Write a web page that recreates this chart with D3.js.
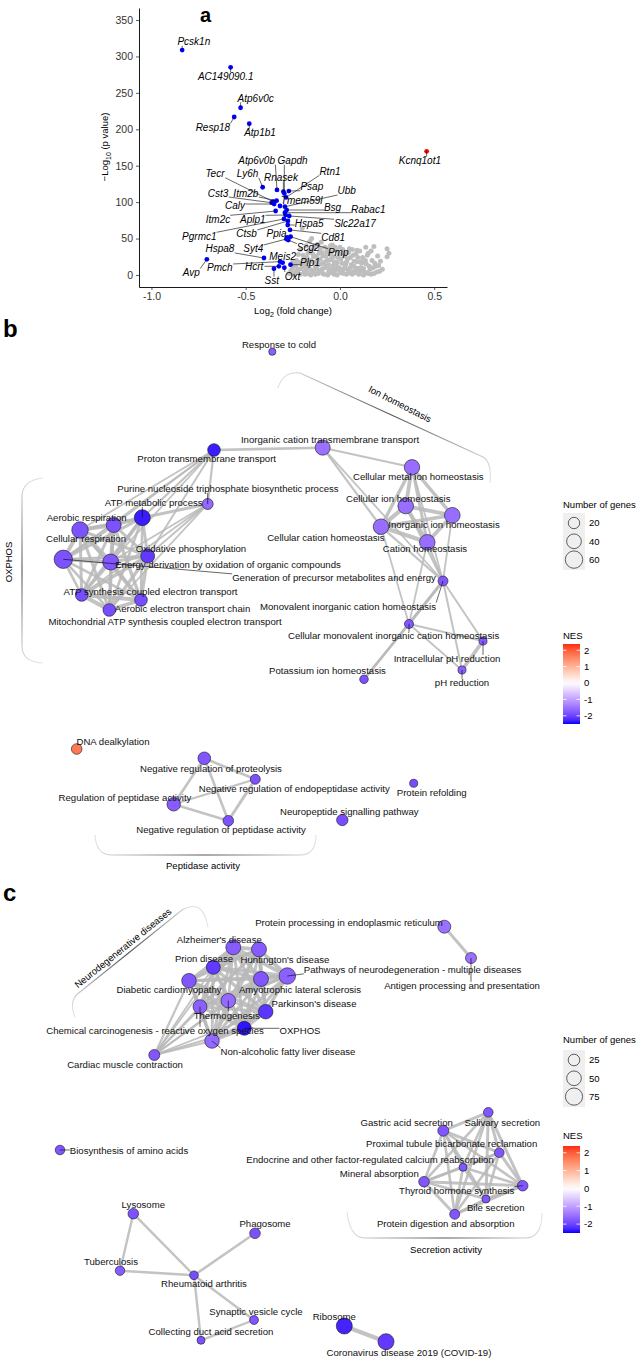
<!DOCTYPE html>
<html><head><meta charset="utf-8">
<script src="https://cdn.jsdelivr.net/npm/d3@7/dist/d3.min.js"></script>
<style>body{margin:0;background:#fff} text{font-family:"Liberation Sans",Arial,Helvetica,sans-serif}</style>
</head><body><svg id="fig" width="640" height="1359"></svg>
<script>
// ---------------- Panel a : volcano data ----------------
const sigGenes = ["Pcsk1n","AC149090.1","Atp6v0c","Resp18","Atp1b1","Kcnq1ot1","Ly6h","Tecr","Atp6v0b","Gapdh","Rnasek","Rtn1","Psap","Ubb","Tmem59l","Cst3","Itm2b","Caly","Bsg","Rabac1","Itm2c","Aplp1","Slc22a17","Hspa5","Pgrmc1","Ctsb","Ppia","Cd81","Scg2","Pmp","Syt4","Hspa8","Avp","Pmch","Hcrt","Sst","Oxt","Meis2","Plp1"];
const sigLog2FC = [-0.837,-0.580,-0.527,-0.561,-0.481,0.460,-0.410,-0.354,-0.334,-0.295,-0.300,-0.286,-0.271,-0.292,-0.318,-0.362,-0.336,-0.349,-0.283,-0.292,-0.341,-0.288,-0.269,-0.277,-0.297,-0.276,-0.280,-0.265,-0.274,-0.262,-0.284,-0.403,-0.706,-0.318,-0.324,-0.350,-0.295,-0.304,-0.262];
const sigLogP = [308.8,285.1,229.6,216.9,207.7,169.8,120.4,100.6,116.7,111.7,114.3,106.4,115.2,93.7,94.7,99.2,102.0,97.4,89.2,85.5,87.8,82.3,81.0,68.6,76.9,74.1,51.7,61.8,48.0,52.6,49.4,23.3,21.5,18.3,11.9,8.6,10.0,16.9,14.1];
// repelled label positions (data units)
const labelLog2FC = [-0.775,-0.606,-0.447,-0.674,-0.424,0.424,-0.490,-0.663,-0.442,-0.251,-0.313,-0.053,-0.149,0.036,-0.203,-0.647,-0.499,-0.557,-0.039,0.150,-0.647,-0.462,0.080,-0.163,-0.746,-0.495,-0.336,-0.036,-0.168,-0.009,-0.460,-0.637,-0.789,-0.637,-0.455,-0.362,-0.251,-0.304,-0.159];
const labelLogP = [320.2,273.1,242.5,202.7,195.3,156.9,139.0,139.0,156.9,156.9,134.1,142.3,121.2,115.3,102.9,112.5,112.5,94.7,92.9,89.6,76.4,76.4,71.0,70.4,53.1,56.3,56.3,51.7,37.5,30.6,35.7,35.7,3.2,9.6,11.0,-7.8,-1.4,25.1,17.4];
// non-significant genes [log2FC, -log10 p]
const bgGenes = [[-0.27,2],[-0.26,6],[-0.25,10],[-0.24,3],[-0.24,15],[-0.23,20],[-0.22,8],[-0.22,28],[-0.21,1],[-0.21,35],[-0.20,64],[-0.20,14],[-0.19,22],[-0.19,4],[-0.18,40],[-0.18,10],[-0.17,30],[-0.17,2],[-0.16,18],[-0.16,46],[-0.15,50],[-0.15,7],[-0.14,25],[-0.14,36],[-0.13,12],[-0.13,1],[-0.12,42],[-0.12,20],[-0.11,30],[-0.11,5],[-0.10,45],[-0.10,15],[-0.09,26],[-0.09,2],[-0.08,38],[-0.08,10],[-0.07,20],[-0.07,32],[-0.06,4],[-0.06,14],[-0.05,28],[-0.05,40],[-0.04,41],[-0.04,8],[-0.03,18],[-0.03,1],[-0.02,34],[-0.02,12],[-0.01,24],[0.00,5],[0.00,38],[0.01,16],[0.02,30],[0.02,2],[0.03,9],[0.04,22],[0.05,36],[0.05,3],[0.06,14],[0.07,27],[0.08,6],[0.09,34],[0.09,18],[0.10,1],[0.11,10],[0.12,24],[0.13,4],[0.137,38],[0.14,15],[0.15,30],[0.16,8],[0.17,20],[0.18,39],[0.18,2],[0.19,12],[0.20,26],[0.21,5],[0.25,36],[0.25,25],[-0.23,5],[-0.19,12],[-0.12,8],[-0.05,21],[0.03,14],[0.11,18],[0.15,2],[-0.26,14],[-0.01,9],[0.07,4],
 [-0.25,18],[-0.245,0],[-0.235,12],[-0.225,4],[-0.215,17],[-0.205,9],[-0.195,27],[-0.185,1],[-0.185,16],[-0.175,6],[-0.175,24],[-0.165,11],[-0.165,34],[-0.155,0],[-0.155,20],[-0.145,5],[-0.145,29],[-0.135,17],[-0.135,40],[-0.125,8],[-0.125,26],[-0.115,2],[-0.115,14],[-0.105,22],[-0.105,36],[-0.095,8],[-0.095,31],[-0.085,1],[-0.085,17],[-0.075,12],[-0.075,26],[-0.065,0],[-0.065,36],[-0.055,8],[-0.055,21],[-0.045,3],[-0.045,32],[-0.035,13],[-0.035,25],[-0.025,6],[-0.025,38],[-0.015,0],[-0.015,17],[-0.005,10],[-0.005,29],[0.005,3],[0.005,22],[0.015,8],[0.015,35],[0.025,14],[0.025,26],[0.035,1],[0.035,18],[0.045,6],[0.045,31],[0.055,10],[0.055,24],[0.065,1],[0.065,35],[0.075,12],[0.075,19],[0.085,3],[0.085,29],[0.095,9],[0.095,24],[0.105,5],[0.105,33],[0.115,16],[0.125,0],[0.125,9],[0.135,20],[0.145,3],[0.145,27],[0.155,12],[0.165,1],[0.165,33],[0.175,10],[0.185,16],[0.195,4],[0.205,13],[0.215,19],[0.225,8],[0.26,30]];
const sigDirection = sigLog2FC.map(v => v > 0 ? "up" : "down");
const volcanoXTicks = [-1.0,-0.5,0.0,0.5];
const volcanoYTicks = [0,50,100,150,200,250,300,350];

// ---------------- Panel b : GO network ----------------
const bNames = ["Response to cold","Proton transmembrane transport","Inorganic cation transmembrane transport","Purine nucleoside triphosphate biosynthetic process","ATP metabolic process","Aerobic respiration","Cellular respiration","Generation of precursor metabolites and energy","Energy derivation by oxidation of organic compounds","Oxidative phosphorylation","ATP synthesis coupled electron transport","Aerobic electron transport chain","Mitochondrial ATP synthesis coupled electron transport","Cellular metal ion homeostasis","Cellular ion homeostasis","Inorganic ion homeostasis","Cellular cation homeostasis","Cation homeostasis","Monovalent inorganic cation homeostasis","Cellular monovalent inorganic cation homeostasis","Intracellular pH reduction","Potassium ion homeostasis","pH reduction","DNA dealkylation","Negative regulation of proteolysis","Negative regulation of endopeptidase activity","Regulation of peptidase activity","Negative regulation of peptidase activity","Neuropeptide signalling pathway","Protein refolding"];
const bLayoutX = [272.3,214,322.7,207.7,142.3,113.7,80,63.3,110.7,147.7,81.7,141,109.3,412,405.7,452.3,381,427.3,443,409,483,364,462,76.7,204.3,255.3,173.7,228.3,342.3,413.7];
const bLayoutY = [21.7,120,117.7,174,187.7,195,200,229.3,232,226,265,270,280,137.3,176,185.3,196.7,212.3,251,294,311,349.3,340,419,428.3,449.3,474.3,490.7,490,453.3];
const bGenes = [2,27,42,18,49,42,53,68,49,35,27,27,27,45,47,47,46,46,13,9,5,7,5,16,27,13,32,16,20,5];
const bNES = [-1.7,-2.35,-1.5,-1.6,-2.35,-1.85,-1.85,-1.85,-1.8,-2.1,-1.9,-1.9,-1.9,-1.55,-1.55,-1.55,-1.55,-1.55,-1.8,-1.8,-1.75,-1.85,-1.7,1.7,-1.8,-1.85,-1.75,-1.85,-1.9,-1.9];
const bLabelX = [279,206.7,330,228,153.7,86.7,86,334,228,191,150.5,182.5,165,418.3,398.3,444,325.8,425,348,393.6,447,327.5,462,113,211,294.3,125,221,349.3,431.7];
const bLabelY = [14.3,129,109.3,159,173,187.3,209,248,234.3,218.3,261.7,279,291.7,146.7,168.3,195,207.7,219,276.7,306,329,341,353,411.3,438.3,458.3,467.3,499.3,481.7,462.7];
const bEdges = [[1,2,.5],[1,3,.4],[1,4,.4],[1,5,.3],[1,6,.3],[1,8,.3],[1,9,.35],[1,7,.25],
 [3,4,.6],[3,9,.35],[3,10,.3],[3,12,.3],[3,8,.3],
 [4,5,.7],[4,6,.6],[4,7,.6],[4,8,.7],[4,9,.6],[4,10,.5],[4,11,.5],[4,12,.5],
 [5,6,.9],[5,7,.7],[5,8,.8],[5,9,.6],[5,10,.6],[5,11,.7],[5,12,.6],
 [6,7,.8],[6,8,.9],[6,9,.6],[6,10,.6],[6,11,.6],[6,12,.6],
 [7,8,.8],[7,9,.5],[7,10,.5],[7,11,.5],[7,12,.5],
 [8,9,.6],[8,10,.6],[8,11,.6],[8,12,.6],[9,10,.7],[9,11,.7],[9,12,.7],[10,11,.8],[10,12,.9],[11,12,.8],
 [2,13,.4],[2,16,.4],[2,18,.3],
 [13,14,.8],[13,15,.7],[13,16,.7],[13,17,.6],[14,15,.8],[14,16,.9],[14,17,.8],[15,16,.7],[15,17,.8],[16,17,.9],
 [18,13,.3],[18,14,.35],[18,15,.3],[18,16,.4],[18,17,.4],[19,18,.6],[19,16,.3],[19,17,.3],
 [21,18,.4],[21,19,.5],[20,18,.35],[20,22,.8],[22,18,.35],[22,19,.3],[20,19,.3],
 [24,25,.5],[24,26,.5],[24,27,.5],[26,27,.5],[26,25,.4],[25,27,.6]];

// ---------------- Panel c : KEGG network ----------------
const cNames = ["Alzheimer's disease","Huntington's disease","Prion disease","Diabetic cardiomyopathy","Amyotrophic lateral sclerosis","Pathways of neurodegeneration - multiple diseases","Parkinson's disease","Thermogenesis","Chemical carcinogenesis - reactive oxygen species","OXPHOS","Non-alcoholic fatty liver disease","Cardiac muscle contraction","Protein processing in endoplasmic reticulum","Antigen processing and presentation","Biosynthesis of amino acids","Gastric acid secretion","Salivary secretion","Proximal tubule bicarbonate reclamation","Endocrine and other factor-regulated calcium reabsorption","Mineral absorption","Thyroid hormone synthesis","Bile secretion","Protein digestion and absorption","Lysosome","Phagosome","Tuberculosis","Rheumatoid arthritis","Synaptic vesicle cycle","Collecting duct acid secretion","Ribosome","Coronavirus disease 2019 (COVID-19)"];
const cLayoutX = [233.3,259,213.3,189,261,287.3,265.7,228.3,200,244.3,212,154.3,444.3,471,60,443.3,488.3,499.3,463,424,522.7,486,454.7,133.3,255,120,194,254,201,344.3,386];
const cLayoutY = [77.3,79.3,97.3,110.7,109,106,141.7,130.7,136.7,158.3,171,185,56.7,88,280,260.7,242.3,282.7,297.3,311.7,315.7,329,344.3,343.7,363.3,400.7,405.3,450,470.3,456,471.7];
const cGenes = [53,53,44,49,53,68,49,49,44,44,49,21,36,21,12,21,12,12,3,18,18,3,14,18,18,11,7,8,3,63,63];
const cNES = [-1.75,-1.75,-2.1,-1.8,-1.8,-1.7,-2.15,-1.6,-1.7,-2.4,-1.6,-1.8,-1.5,-1.5,-1.8,-1.8,-1.8,-1.8,-1.8,-1.8,-1.8,-1.8,-1.8,-1.85,-1.85,-1.75,-1.9,-1.8,-1.85,-2.3,-2.1];
const cLabelX = [219.3,285,204,169,300,412.6,314,226.7,155,300,288,125,349,462,129,406.7,502.3,451.7,370,379.3,456.7,495.7,445.7,143.3,265,111,204,256,211,334.3,409];
const cLabelY = [69.3,89.3,89,120,120,100,134,145.7,161,161,182,195,52.7,116,281,252.3,252.3,274,289.3,304,320.7,337.7,353.3,335,354,392,413.7,441.7,462,446.7,482.7];
const cEdges = [[0,1,.8],[0,2,.7],[0,3,.6],[0,4,.7],[0,5,.8],[0,6,.7],[0,7,.5],[0,8,.6],[0,9,.6],[0,10,.6],
 [1,2,.7],[1,3,.6],[1,4,.7],[1,5,.8],[1,6,.7],[1,7,.5],[1,8,.6],[1,9,.6],[1,10,.6],
 [2,3,.6],[2,4,.7],[2,5,.7],[2,6,.7],[2,7,.5],[2,8,.6],[2,9,.6],[2,10,.6],
 [3,4,.6],[3,5,.6],[3,6,.6],[3,7,.6],[3,8,.6],[3,9,.6],[3,10,.6],
 [4,5,.8],[4,6,.7],[4,7,.5],[4,8,.6],[4,9,.6],[4,10,.6],
 [5,6,.7],[5,7,.5],[5,8,.6],[5,9,.6],[5,10,.6],[6,7,.5],[6,8,.6],[6,9,.7],[6,10,.6],
 [7,8,.6],[7,9,.6],[7,10,.6],[8,9,.6],[8,10,.7],[9,10,.7],
 [11,3,.4],[11,7,.35],[11,8,.35],[11,9,.4],[11,10,.4],[11,0,.3],[11,2,.3],[11,6,.3],[11,1,.25],[11,4,.25],
 [12,13,.6],
 [15,16,.6],[15,17,.6],[15,18,.5],[15,19,.5],[15,20,.5],[15,21,.5],[15,22,.5],
 [16,17,.6],[16,18,.5],[16,19,.5],[16,20,.6],[16,21,.6],[16,22,.5],
 [17,18,.5],[17,19,.5],[17,20,.6],[17,21,.5],[17,22,.5],
 [18,19,.5],[18,20,.5],[18,21,.5],[18,22,.5],[19,20,.6],[19,21,.5],[19,22,.6],[20,21,.6],[20,22,.6],[21,22,.5],
 [23,25,.45],[23,26,.45],[25,26,.5],[24,26,.5],[26,27,.45],[26,28,.45],[27,28,.45],[29,30,.9]];

// legends
const bSizeBreaks = [20,40,60];
const cSizeBreaks = [25,50,75];
const nesBreaks = [2,1,0,-1,-2];
const nesLimits = [-2.5,2.38];

// ---------------- drawing ----------------
const svg = d3.select("#fig");
const defs = svg.append("defs");
const colorNES = d3.scaleLinear().domain([-2.5,0,2.5]).range(["#0000ff","#ffffff","#ff0000"]).interpolate(d3.interpolateLab).clamp(true);
const edgeWidth = d3.scaleLinear().domain([0,1]).range([0.6,4.6]);
const LABEL_FS = 9.6;

function boxDist(b, px, py){
  const nx = Math.max(b.x, Math.min(px, b.x+b.width));
  const ny = Math.max(b.y, Math.min(py, b.y+b.height));
  return {nx, ny, d: Math.hypot(px-nx, py-ny)};
}

// ---- Panel a
(function(){
  const x = d3.scaleLinear().domain([-1.066,0.568]).range([139,447]);
  const y = d3.scaleLinear().domain([-16.5,366.5]).range([287,8]);
  const g = svg.append("g");
  const xa = g.append("g").attr("transform","translate(0,287)")
    .call(d3.axisBottom(x).tickValues(volcanoXTicks).tickSize(3).tickSizeOuter(0).tickFormat(d=>d.toFixed(1)));
  const ya = g.append("g").attr("transform","translate(139,0)")
    .call(d3.axisLeft(y).tickValues(volcanoYTicks).tickSize(3).tickSizeOuter(0).tickFormat(d=>d));
  [xa,ya].forEach(a=>{
    a.select(".domain").attr("stroke","#000").attr("stroke-width",0.9);
    a.selectAll(".tick line").attr("stroke","#333").attr("stroke-width",0.8);
    a.selectAll(".tick text").attr("font-size",10.5).attr("fill","#333").attr("font-family",'"Liberation Sans",Arial,sans-serif');
  });
  g.append("g").selectAll("circle").data(bgGenes).join("circle")
    .attr("cx",d=>x(d[0])).attr("cy",d=>y(d[1])).attr("r",2.5).attr("fill","#bebebe");
  g.append("g").selectAll("circle").data(sigGenes.map((n,i)=>i)).join("circle")
    .attr("cx",i=>x(sigLog2FC[i])).attr("cy",i=>y(sigLogP[i])).attr("r",2.4)
    .attr("fill",i=>sigDirection[i]==="up"?"#ff0000":"#0000ff");
  const segG = g.append("g"), txtG = g.append("g");
  sigGenes.forEach((n,i)=>{
    const t = txtG.append("text").attr("x",x(labelLog2FC[i])).attr("y",y(labelLogP[i])).attr("dy","0.35em")
      .attr("text-anchor","middle").attr("font-size",10).attr("font-style","italic").text(n);
    const b = t.node().getBBox();
    const px = x(sigLog2FC[i]), py = y(sigLogP[i]);
    const r = boxDist({x:b.x,y:b.y+1.5,width:b.width,height:b.height-3}, px, py);
    if (r.d > 3) segG.append("line").attr("x1",r.nx).attr("y1",r.ny).attr("x2",px).attr("y2",py)
      .attr("stroke","#000").attr("stroke-width",0.6);
  });
  const xt = g.append("text").attr("x",293).attr("y",314).attr("text-anchor","middle").attr("font-size",9.5);
  xt.append("tspan").text("Log");
  xt.append("tspan").attr("font-size",7).attr("dy",2.5).text("2");
  xt.append("tspan").attr("dy",-2.5).text(" (fold change)");
  const yt = g.append("text").attr("transform","translate(108,147) rotate(-90)").attr("text-anchor","middle").attr("font-size",9.5);
  yt.append("tspan").text("\u2212Log");
  yt.append("tspan").attr("font-size",7).attr("dy",2.5).text("10");
  yt.append("tspan").attr("dy",-2.5).text(" (p value)");
  g.append("text").attr("x",200).attr("y",22).attr("font-size",20).attr("font-weight","bold").text("a");
})();

// ---- brackets
let bracketId = 0;
function bracket(d, x1,y1,x2,y2){
  const id = "brk"+(bracketId++);
  const lg = defs.append("linearGradient").attr("id",id).attr("gradientUnits","userSpaceOnUse")
    .attr("x1",x1).attr("y1",y1).attr("x2",x2).attr("y2",y2);
  lg.append("stop").attr("offset",0).attr("stop-color","#e2e2e2");
  lg.append("stop").attr("offset",0.5).attr("stop-color","#555");
  lg.append("stop").attr("offset",1).attr("stop-color","#e2e2e2");
  svg.append("path").attr("d",d).attr("fill","none").attr("stroke",`url(#${id})`).attr("stroke-width",1.1);
}

// ---- network
function drawNetwork(P){
  const g = svg.append("g");
  const sx = d3.scaleLinear().domain([0,640]).range([0,640]);
  const sy = d3.scaleLinear().domain([0,600]).range([P.top,P.top+600]);
  const rs = d3.scaleRadial().domain(P.sizeDomain).range(P.sizeRange);
  const nodes = P.names.map((n,i)=>({name:n,x:sx(P.x[i]),y:sy(P.y[i]),r:rs(P.genes[i]),fill:colorNES(P.nes[i]),lx:sx(P.lx[i]),ly:sy(P.ly[i])}));
  g.append("g").selectAll("line").data(P.edges).join("line")
    .attr("x1",d=>nodes[d[0]].x).attr("y1",d=>nodes[d[0]].y).attr("x2",d=>nodes[d[1]].x).attr("y2",d=>nodes[d[1]].y)
    .attr("stroke","#b9b9b9").attr("stroke-opacity",0.85).attr("stroke-width",d=>edgeWidth(d[2]));
  g.append("g").selectAll("circle").data(nodes).join("circle")
    .attr("cx",d=>d.x).attr("cy",d=>d.y).attr("r",d=>d.r).attr("fill",d=>d.fill).attr("stroke","#1a1a1a").attr("stroke-width",0.6);
  const segG = g.append("g"), txtG = g.append("g");
  nodes.forEach(n=>{
    const t = txtG.append("text").attr("x",n.lx).attr("y",n.ly).attr("dy","0.35em").attr("text-anchor","middle")
      .attr("font-size",LABEL_FS).attr("fill","#111").text(n.name);
    const b = t.node().getBBox();
    const r = boxDist({x:b.x,y:b.y+1.5,width:b.width,height:b.height-3}, n.x, n.y);
    if (r.d > n.r + 2.5) segG.append("line").attr("x1",r.nx).attr("y1",r.ny).attr("x2",n.x).attr("y2",n.y)
      .attr("stroke","#000").attr("stroke-width",0.6);
  });
}

function drawLegend(L){
  const g = svg.append("g");
  g.append("text").attr("x",563).attr("y",L.sizeTitle).attr("dy","0.35em").attr("font-size",9.5).text("Number of genes");
  const rs = d3.scaleRadial().domain(L.sizeDomain).range(L.sizeRange);
  const ky = d3.scalePoint().domain(L.breaks).range([L.keyTop+10, L.keyTop+10+2*18.3]);
  g.append("rect").attr("x",563).attr("y",L.keyTop).attr("width",22).attr("height",57).attr("fill","#efefef");
  g.selectAll("circle.k").data(L.breaks).join("circle").attr("cx",574).attr("cy",d=>ky(d)).attr("r",d=>rs(d))
    .attr("fill","none").attr("stroke","#222").attr("stroke-width",0.7);
  g.selectAll("text.k").data(L.breaks).join("text").attr("x",589).attr("y",d=>ky(d)).attr("dy","0.35em").attr("font-size",9.5).text(d=>d);
  g.append("text").attr("x",563).attr("y",L.nesTitle).attr("dy","0.35em").attr("font-size",9.5).text("NES");
  const cy = d3.scaleLinear().domain([nesLimits[1],nesLimits[0]]).range([L.barTop,L.barTop+L.barLen]);
  const id = "cbar"+L.barTop;
  const lg = defs.append("linearGradient").attr("id",id).attr("x1",0).attr("y1",0).attr("x2",0).attr("y2",1);
  d3.range(0,21).forEach(k=>{ const v = nesLimits[1] + (nesLimits[0]-nesLimits[1])*k/20;
    lg.append("stop").attr("offset",k/20).attr("stop-color",colorNES(v)); });
  g.append("rect").attr("x",563).attr("y",L.barTop).attr("width",17).attr("height",L.barLen).attr("fill",`url(#${id})`);
  nesBreaks.forEach(v=>{
    g.append("line").attr("x1",563).attr("x2",566.5).attr("y1",cy(v)).attr("y2",cy(v)).attr("stroke","#fff").attr("stroke-width",0.8);
    g.append("line").attr("x1",576.5).attr("x2",580).attr("y1",cy(v)).attr("y2",cy(v)).attr("stroke","#fff").attr("stroke-width",0.8);
    g.append("text").attr("x",584).attr("y",cy(v)).attr("dy","0.35em").attr("font-size",9.5).text(v);
  });
}

// Panel b
svg.append("text").attr("x",3).attr("y",337).attr("font-size",24).attr("font-weight","bold").text("b");
bracket("M43,478 Q22,480 22,497 L22,646 Q22,662 43,663", 30,478,30,663);
svg.append("text").attr("transform","translate(9,562) rotate(-90)").attr("text-anchor","middle").attr("dy","0.35em").attr("font-size",9.5).text("OXPHOS");
bracket("M278,388 Q283,371 300,373 L483,457 Q492,462 490,483", 278,380,490,483);
svg.append("text").attr("transform","translate(400,404) rotate(27)").attr("text-anchor","middle").attr("dy","0.35em").attr("font-size",9.5).text("Ion homeostasis");
bracket("M95,835 Q96,855 112,855 L300,855 Q316,855 316,835", 95,850,316,850);
svg.append("text").attr("x",203).attr("y",865.3).attr("text-anchor","middle").attr("dy","0.35em").attr("font-size",9.5).text("Peptidase activity");
drawNetwork({names:bNames,x:bLayoutX,y:bLayoutY,genes:bGenes,nes:bNES,lx:bLabelX,ly:bLabelY,edges:bEdges,top:330,sizeDomain:[20,60],sizeRange:[5.7,8.7]});
drawLegend({sizeTitle:505,keyTop:513,breaks:bSizeBreaks,sizeDomain:[20,60],sizeRange:[5.7,8.7],nesTitle:636,barTop:644,barLen:80});

// Panel c
svg.append("text").attr("x",3).attr("y",901).attr("font-size",24).attr("font-weight","bold").text("c");
bracket("M75,1017 Q68,1000 80,992 L182,910 Q203,898 208,927", 75,1017,208,927);
svg.append("text").attr("transform","translate(123,948) rotate(-38.8)").attr("text-anchor","middle").attr("dy","0.35em").attr("font-size",9.5).text("Neurodegenerative diseases");
bracket("M347,1212 Q350,1238 365,1238 L525,1238 Q542,1238 542,1213", 347,1230,542,1230);
svg.append("text").attr("x",446).attr("y",1249.3).attr("text-anchor","middle").attr("dy","0.35em").attr("font-size",9.5).text("Secretion activity");
drawNetwork({names:cNames,x:cLayoutX,y:cLayoutY,genes:cGenes,nes:cNES,lx:cLabelX,ly:cLabelY,edges:cEdges,top:870,sizeDomain:[25,75],sizeRange:[5.8,8.6]});
drawLegend({sizeTitle:1040,keyTop:1050,breaks:cSizeBreaks,sizeDomain:[25,75],sizeRange:[5.8,8.6],nesTitle:1136,barTop:1146,barLen:87});
</script></body></html>
